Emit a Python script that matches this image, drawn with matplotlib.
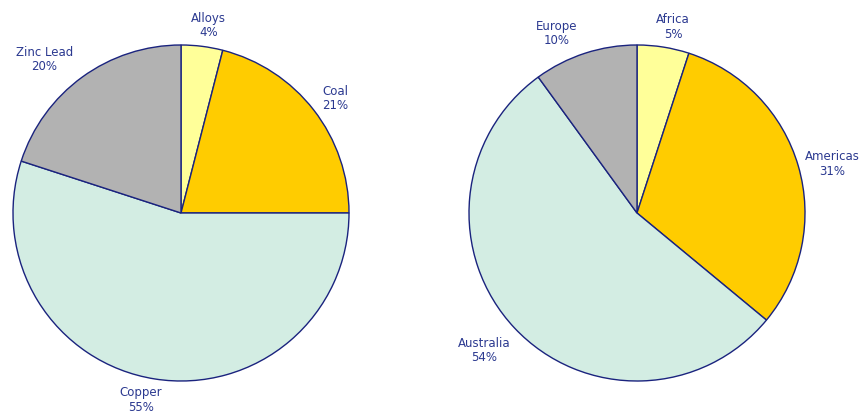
import matplotlib.pyplot as plt

# sales by product
product_labels = ['Alloys', 'Coal', 'Copper', 'Zinc Lead']
product_share = [4, 21, 55, 20]

# sales by region
region_labels = ['Africa', 'Americas', 'Australia', 'Europe']
region_share = [5, 31, 54, 10]

colors = ['#FFFF99', '#FFCC00', '#D3EDE3', '#B2B2B2']
edge = '#1A237E'
text_color = '#2B3990'

W, H = 863, 417
R = 168
fig = plt.figure(figsize=(W / 100, H / 100), dpi=100)


def draw_pie(cx, cy, labels, values, nudge):
    ax = fig.add_axes([(cx - R) / W, (H - cy - R) / H, 2 * R / W, 2 * R / H])
    texts = ax.pie(values, labels=[f'{l}\n{v}%' for l, v in zip(labels, values)],
                   colors=colors, startangle=90, counterclock=False,
                   labeldistance=1.15,
                   wedgeprops=dict(edgecolor=edge, linewidth=1.0),
                   textprops=dict(color=text_color, fontsize=8.5,
                                  linespacing=1.15))[1]
    # shift labels a little so they sit clear of the rim (pixels)
    for t, (dx, dy) in zip(texts, nudge):
        x, y = t.get_position()
        t.set_position((x + dx / R, y - dy / R))
        t.set_ha('center')
        t.set_va('center')
    ax.set_xlim(-1, 1)
    ax.set_ylim(-1, 1)
    ax.set_aspect('equal')
    return ax


draw_pie(181, 213, product_labels, product_share,
         [(3, 4), (2, 4), (-10, -4), (-23, 3)])
draw_pie(637, 213, region_labels, region_share,
         [(6, 5), (10, 5), (-12, 5), (-21, 4)])

plt.savefig('out.png', dpi=100)
